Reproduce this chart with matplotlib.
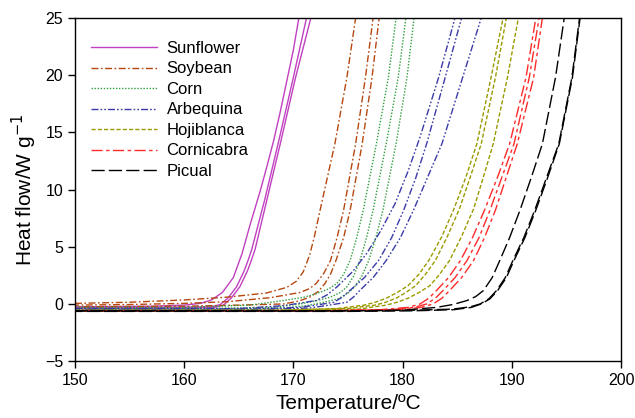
import matplotlib
matplotlib.use("Agg")
import matplotlib.pyplot as plt

plt.rcParams['font.family'] = ['Liberation Sans', 'DejaVu Sans']

# Heat flow curves: three replicate runs per oil
# temperature (degC) and heat flow (W/g) for each run

sunflower_t = [
    [150, 157, 160, 161.5, 162.5, 163.5, 164.5, 165.3, 166.0, 167.0, 167.6, 168.2, 168.8, 169.4, 170.0, 170.5],
    [150, 158, 162.5, 163.3, 164.0, 164.8, 165.5, 165.85, 166.2, 167.4, 168.6, 170.0, 171.2],
    [150, 158, 162.8, 163.6, 164.3, 165.1, 165.8, 166.15, 166.5, 167.6, 168.8, 170.2, 171.6],
]
sunflower_hf = [
    [-0.25, -0.2, -0.1, 0.05, 0.35, 1.0, 2.3, 4.4, 6.8, 10.0, 12.1, 14.3, 16.8, 19.5, 22.2, 25.0],
    [-0.3, -0.3, -0.25, -0.05, 0.5, 1.5, 2.9, 3.8, 4.8, 9.2, 14.0, 19.8, 25.0],
    [-0.35, -0.35, -0.3, -0.1, 0.5, 1.5, 2.9, 3.8, 4.8, 9.2, 14.0, 19.8, 25.0],
]

soybean_t = [
    [150, 155, 160, 164, 167.5, 169.4, 170.3, 170.9, 171.5, 171.95, 172.4, 173.1, 173.8, 174.9, 175.7],
    [150, 155, 160, 164, 167.9, 170.6, 171.5, 172.1, 172.8, 173.4, 174.0, 174.6, 175.7, 176.6, 177.3],
    [150, 160, 165, 169.1, 170.5, 171.5, 172.3, 172.9, 173.4, 173.9, 174.6, 175.2, 176.3, 177.2, 177.85],
]
soybean_hf = [
    [0.05, 0.15, 0.35, 0.6, 0.95, 1.45, 2.0, 2.8, 4.3, 6.0, 8.0, 11.0, 14.0, 19.8, 25.0],
    [-0.1, -0.05, 0.05, 0.2, 0.55, 1.0, 1.35, 1.8, 2.7, 3.8, 5.8, 8.2, 14.0, 19.8, 25.0],
    [-0.25, -0.2, -0.1, 0.0, 0.25, 0.6, 1.1, 1.8, 2.6, 3.8, 5.8, 8.2, 14.0, 19.8, 25.0],
]

corn_t = [
    [150, 160, 166, 169.1, 171.0, 172.1, 173.2, 174.0, 174.6, 175.2, 175.8, 176.4, 177.6, 178.7, 179.4],
    [150, 162, 168, 170.6, 172.2, 173.4, 174.3, 174.9, 175.5, 176.1, 176.7, 177.3, 178.5, 179.6, 180.3],
    [150, 163, 169, 171.2, 172.8, 174.1, 175.0, 175.6, 176.25, 176.9, 177.55, 178.2, 179.4, 180.4, 181.05],
]
corn_hf = [
    [-0.3, -0.3, -0.1, 0.3, 0.6, 0.9, 1.3, 1.8, 2.6, 3.8, 5.8, 8.2, 14.0, 19.8, 25.0],
    [-0.4, -0.4, -0.3, 0.0, 0.3, 0.6, 1.0, 1.5, 2.4, 3.8, 5.8, 8.2, 14.0, 19.8, 25.0],
    [-0.45, -0.45, -0.35, -0.15, 0.15, 0.45, 0.95, 1.5, 2.4, 3.8, 5.8, 8.2, 14.0, 19.8, 25.0],
]

arbequina_t = [
    [150, 165, 169.1, 172.1, 173.1, 174.0, 175.4, 176.7, 178.0, 179.3, 180.5, 181.6, 183.3, 184.8],
    [150, 166, 170.6, 172.4, 173.7, 174.5, 175.2, 176.5, 177.8, 179.0, 180.1, 181.2, 182.2, 183.9, 185.4],
    [150, 167, 171.5, 173.3, 174.9, 175.5, 176.1, 177.3, 178.5, 179.8, 181.0, 182.3, 183.6, 185.5, 187.2],
]
arbequina_hf = [
    [-0.4, -0.4, -0.15, 0.3, 0.8, 1.5, 2.8, 4.4, 6.4, 8.75, 11.6, 14.6, 19.8, 25.0],
    [-0.45, -0.45, -0.3, -0.05, 0.15, 0.6, 1.2, 2.3, 3.8, 5.8, 8.2, 11.0, 14.0, 19.8, 25.0],
    [-0.5, -0.5, -0.35, -0.1, 0.15, 0.6, 1.2, 2.3, 3.8, 5.8, 8.2, 11.1, 14.0, 19.8, 25.0],
]

hojiblanca_t = [
    [150, 168, 174, 176.5, 177.5, 178.5, 179.5, 180.5, 181.5, 182.4, 183.6, 184.7, 185.8, 186.8, 188.1, 189.2],
    [150, 169, 175, 177.5, 178.45, 179.4, 180.3, 181.2, 182.1, 183.0, 184.1, 185.2, 186.2, 187.2, 188.5, 189.5],
    [150, 170, 176, 178.5, 179.5, 180.5, 181.5, 182.5, 183.4, 184.3, 185.4, 186.5, 187.4, 188.3, 189.6, 190.6],
]
hojiblanca_hf = [
    [-0.55, -0.55, -0.4, -0.1, 0.15, 0.5, 1.0, 1.6, 2.6, 3.8, 5.9, 8.3, 11.1, 14.0, 19.8, 25.0],
    [-0.55, -0.55, -0.4, -0.1, 0.15, 0.5, 1.0, 1.6, 2.6, 3.8, 5.9, 8.3, 11.1, 14.0, 19.8, 25.0],
    [-0.6, -0.6, -0.45, -0.1, 0.15, 0.5, 1.0, 1.6, 2.6, 3.8, 5.9, 8.3, 11.1, 14.0, 19.8, 25.0],
]

cornicabra_t = [
    [150, 172, 178, 180.5, 181.6, 182.4, 183.1, 184.2, 185.3, 186.4, 187.5, 188.7, 189.8, 191.3, 192.2],
    [150, 173, 179, 181.1, 182.2, 183.0, 183.7, 184.8, 185.9, 187.0, 188.0, 189.1, 190.2, 191.6, 192.5],
    [150, 174, 180, 181.7, 182.8, 183.6, 184.3, 185.4, 186.5, 187.5, 188.5, 189.5, 190.5, 192.0, 192.8],
]
cornicabra_hf = [
    [-0.6, -0.6, -0.5, -0.3, 0.0, 0.5, 1.17, 2.3, 3.8, 5.8, 8.2, 11.1, 14.0, 19.8, 25.0],
    [-0.6, -0.6, -0.5, -0.3, 0.0, 0.5, 1.17, 2.3, 3.8, 5.8, 8.2, 11.1, 14.0, 19.8, 25.0],
    [-0.6, -0.6, -0.5, -0.3, 0.0, 0.5, 1.17, 2.3, 3.8, 5.8, 8.2, 11.1, 14.0, 19.8, 25.0],
]

picual_t = [
    [150, 175, 180, 183.1, 184.6, 185.9, 186.7, 187.4, 188.2, 188.9, 189.8, 190.75, 191.8, 192.8, 194.0, 194.8],
    [150, 175, 181, 184.6, 186.2, 187.1, 187.9, 188.6, 189.4, 190.1, 191.1, 192.1, 193.2, 194.3, 195.5, 196.2],
    [150, 175, 181, 184.7, 186.3, 187.2, 188.0, 188.7, 189.5, 190.2, 191.2, 192.2, 193.3, 194.35, 195.55, 196.25],
]
picual_hf = [
    [-0.6, -0.6, -0.55, -0.3, -0.05, 0.3, 0.65, 1.17, 2.3, 3.8, 5.8, 8.2, 11.1, 14.0, 19.8, 25.0],
    [-0.6, -0.6, -0.55, -0.45, -0.25, 0.0, 0.45, 1.17, 2.3, 3.8, 5.8, 8.2, 11.1, 14.0, 19.8, 25.0],
    [-0.65, -0.65, -0.6, -0.5, -0.3, 0.0, 0.45, 1.17, 2.3, 3.8, 5.8, 8.2, 11.1, 14.0, 19.8, 25.0],
]

oils = ['Sunflower', 'Soybean', 'Corn', 'Arbequina', 'Hojiblanca', 'Cornicabra', 'Picual']
temps = [sunflower_t, soybean_t, corn_t, arbequina_t, hojiblanca_t, cornicabra_t, picual_t]
flows = [sunflower_hf, soybean_hf, corn_hf, arbequina_hf, hojiblanca_hf, cornicabra_hf, picual_hf]

colors = ['#c040c0', '#b5470f', '#2e9e3e', '#3a3aa8', '#9a9a00', '#ff2a2a', 'black']
styles = ['-', (0, (5, 1.8, 1.2, 1.8)), (0, (1, 1.2)), (0, (5, 1.5, 1.2, 1.5, 1.2, 1.5)),
          (0, (3, 1.5)), (0, (8, 2.5, 2.5, 2.5)), (0, (9.5, 3))]

fig = plt.figure(figsize=(6.35, 4.18), dpi=100)
ax = fig.add_axes([0.118, 0.136, 0.860, 0.821])

for name, tt, hh, c, ls in zip(oils, temps, flows, colors, styles):
    for i, (t, h) in enumerate(zip(tt, hh)):
        style = ls
        # shift the dash pattern a bit so overlapping replicates do not hide each other
        if isinstance(ls, tuple):
            style = (i * 2.0, ls[1])
        ax.plot(t, h, color=c, linestyle=style, linewidth=1.0,
                label=name if i == 0 else None)

ax.set_xlim(150, 200)
ax.set_ylim(-5, 25)
ax.set_xticks([150, 160, 170, 180, 190, 200])
ax.set_yticks([-5, 0, 5, 10, 15, 20, 25])
ax.tick_params(direction='out', length=5, width=1, labelsize=11.5)
for s in ax.spines.values():
    s.set_linewidth(1.0)

ax.set_xlabel('Temperature/ºC', fontsize=15)
ax.set_ylabel('Heat flow/W g$^{-1}$', fontsize=15)

ax.legend(loc='upper left', bbox_to_anchor=(0.029, 0.933), frameon=False,
          fontsize=12, handlelength=4.0, handletextpad=0.55, labelspacing=0.33,
          borderpad=0, borderaxespad=0)

fig.savefig('out.png', dpi=100)
